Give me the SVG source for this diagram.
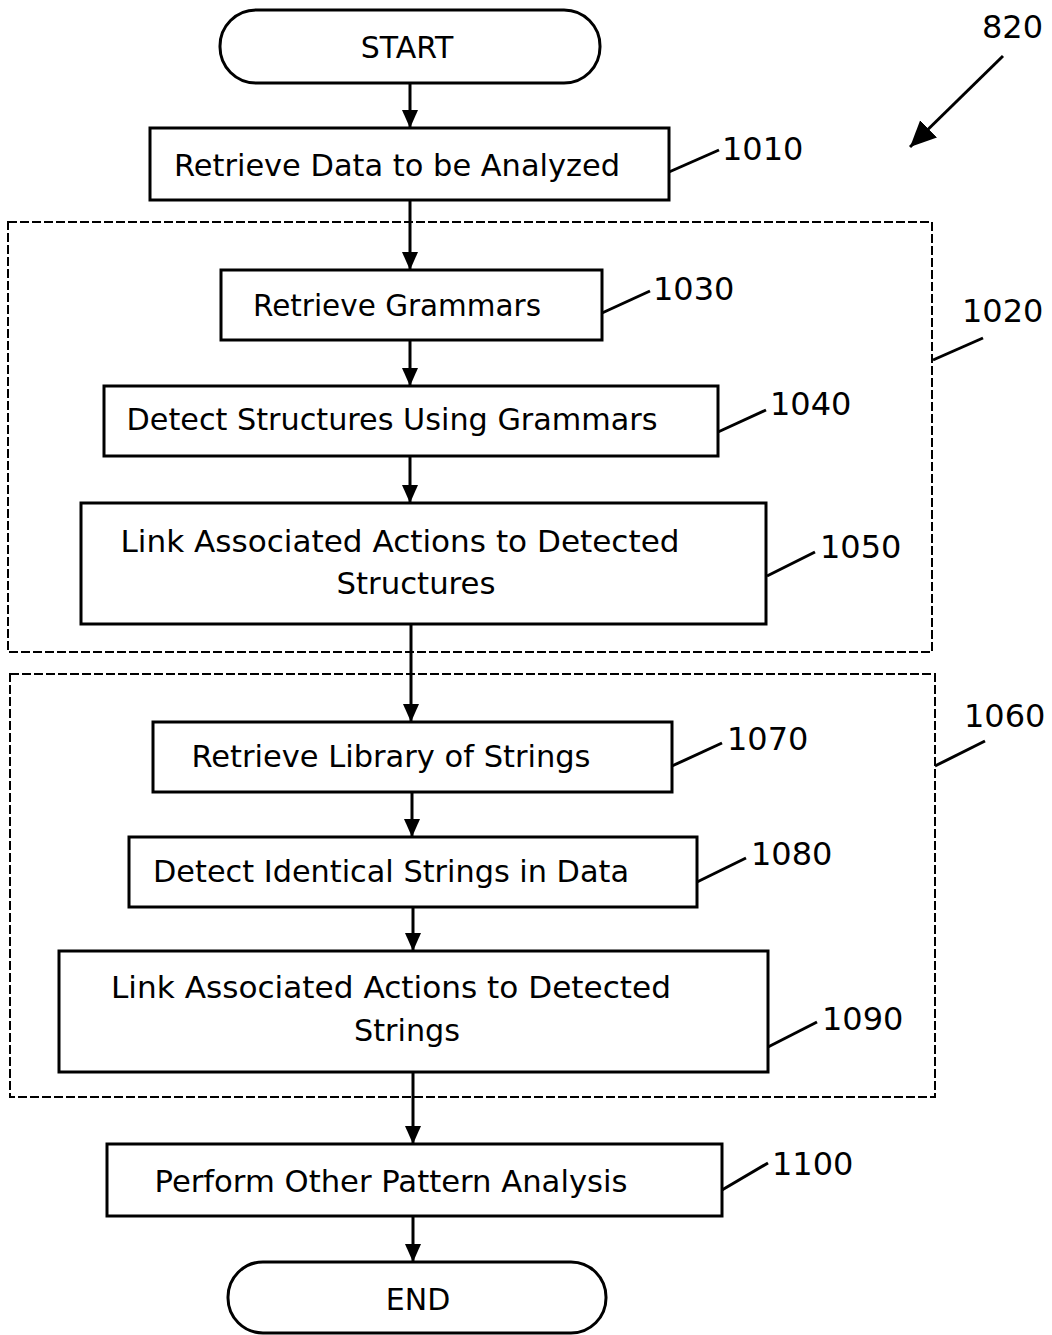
<svg xmlns="http://www.w3.org/2000/svg" width="1052" height="1335" viewBox="0 0 1052 1335">
<style>
.box{fill:#fff;stroke:#000;stroke-width:3}
.grp{fill:none;stroke:#000;stroke-width:2;stroke-dasharray:9,3}
.t{font-family:"DejaVu Sans",Verdana,sans-serif;font-size:30px;fill:#000;text-anchor:middle}
.lbl{font-family:"DejaVu Sans",Verdana,sans-serif;font-size:32px;fill:#000}
.ld{stroke:#000;stroke-width:3;fill:none}
.c{stroke:#000;stroke-width:3;fill:none;marker-end:url(#ah)}
</style>
<defs>
<marker id="ah" markerUnits="userSpaceOnUse" markerWidth="20" markerHeight="22" refX="18" refY="8" orient="auto">
<path d="M0,0 L18,8 L0,16 Z" fill="#000"/>
</marker>
<marker id="ah2" markerUnits="userSpaceOnUse" markerWidth="30" markerHeight="30" refX="26" refY="12" orient="auto">
<path d="M0,0 L26,12 L0,24 Z" fill="#000"/>
</marker>
</defs>
<rect width="1052" height="1335" fill="#fff"/>
<g id="group-1020">
<rect class="grp" x="8" y="222" width="924" height="430"/>
<line class="ld" x1="933" y1="360" x2="983" y2="338"/>
<text class="lbl" x="962" y="322">1020</text>
</g>
<g id="group-1060">
<rect class="grp" x="10" y="674" width="925" height="423"/>
<line class="ld" x1="935" y1="766" x2="985" y2="741"/>
<text class="lbl" x="964" y="727">1060</text>
</g>
<g id="connectors">
<line class="c" x1="410" y1="83" x2="410" y2="128"/>
<line class="c" x1="410" y1="200" x2="410" y2="270"/>
<line class="c" x1="410" y1="340" x2="410" y2="386"/>
<line class="c" x1="410" y1="456" x2="410" y2="503"/>
<line class="c" x1="411" y1="624" x2="411" y2="722"/>
<line class="c" x1="412" y1="792" x2="412" y2="837"/>
<line class="c" x1="413" y1="907" x2="413" y2="951"/>
<line class="c" x1="413" y1="1072" x2="413" y2="1144"/>
<line class="c" x1="413" y1="1216" x2="413" y2="1262"/>
</g>
<g id="ref-820">
<text class="lbl" x="982" y="38">820</text>
<line stroke="#000" stroke-width="3" x1="1003" y1="56" x2="910" y2="147" marker-end="url(#ah2)"/>
</g>
<g id="start">
<rect class="box" x="220" y="10" width="380" height="73" rx="36" ry="36"/>
<text class="t" x="407" y="58">START</text>
</g>
<g id="n1010">
<rect class="box" x="150" y="128" width="519" height="72"/>
<text class="t" x="397" y="176" textLength="446" lengthAdjust="spacingAndGlyphs">Retrieve Data to be Analyzed</text>
<line class="ld" x1="669" y1="172" x2="719" y2="150"/>
<text class="lbl" x="722" y="160">1010</text>
</g>
<g id="n1030">
<rect class="box" x="221" y="270" width="381" height="70"/>
<text class="t" x="397" y="316" textLength="288" lengthAdjust="spacingAndGlyphs">Retrieve Grammars</text>
<line class="ld" x1="602" y1="313" x2="650" y2="291"/>
<text class="lbl" x="653" y="300">1030</text>
</g>
<g id="n1040">
<rect class="box" x="104" y="386" width="614" height="70"/>
<text class="t" x="392" y="430" textLength="531" lengthAdjust="spacingAndGlyphs">Detect Structures Using Grammars</text>
<line class="ld" x1="718" y1="432" x2="766" y2="410"/>
<text class="lbl" x="770" y="415">1040</text>
</g>
<g id="n1050">
<rect class="box" x="81" y="503" width="685" height="121"/>
<text class="t" x="400" y="552" textLength="559" lengthAdjust="spacingAndGlyphs">Link Associated Actions to Detected</text>
<text class="t" x="416" y="594" textLength="159" lengthAdjust="spacingAndGlyphs">Structures</text>
<line class="ld" x1="767" y1="576" x2="815" y2="552"/>
<text class="lbl" x="820" y="558">1050</text>
</g>
<g id="n1070">
<rect class="box" x="153" y="722" width="519" height="70"/>
<text class="t" x="391" y="767" textLength="399" lengthAdjust="spacingAndGlyphs">Retrieve Library of Strings</text>
<line class="ld" x1="672" y1="766" x2="722" y2="743"/>
<text class="lbl" x="727" y="750">1070</text>
</g>
<g id="n1080">
<rect class="box" x="129" y="837" width="568" height="70"/>
<text class="t" x="391" y="882" textLength="476" lengthAdjust="spacingAndGlyphs">Detect Identical Strings in Data</text>
<line class="ld" x1="697" y1="882" x2="746" y2="858"/>
<text class="lbl" x="751" y="865">1080</text>
</g>
<g id="n1090">
<rect class="box" x="59" y="951" width="709" height="121"/>
<text class="t" x="391" y="998" textLength="560" lengthAdjust="spacingAndGlyphs">Link Associated Actions to Detected</text>
<text class="t" x="407" y="1041" textLength="106" lengthAdjust="spacingAndGlyphs">Strings</text>
<line class="ld" x1="768" y1="1047" x2="817" y2="1022"/>
<text class="lbl" x="822" y="1030">1090</text>
</g>
<g id="n1100">
<rect class="box" x="107" y="1144" width="615" height="72"/>
<text class="t" x="391" y="1192" textLength="473" lengthAdjust="spacingAndGlyphs">Perform Other Pattern Analysis</text>
<line class="ld" x1="722" y1="1190" x2="768" y2="1163"/>
<text class="lbl" x="772" y="1175">1100</text>
</g>
<g id="end">
<rect class="box" x="228" y="1262" width="378" height="71" rx="35" ry="35"/>
<text class="t" x="418" y="1310">END</text>
</g>
</svg>
